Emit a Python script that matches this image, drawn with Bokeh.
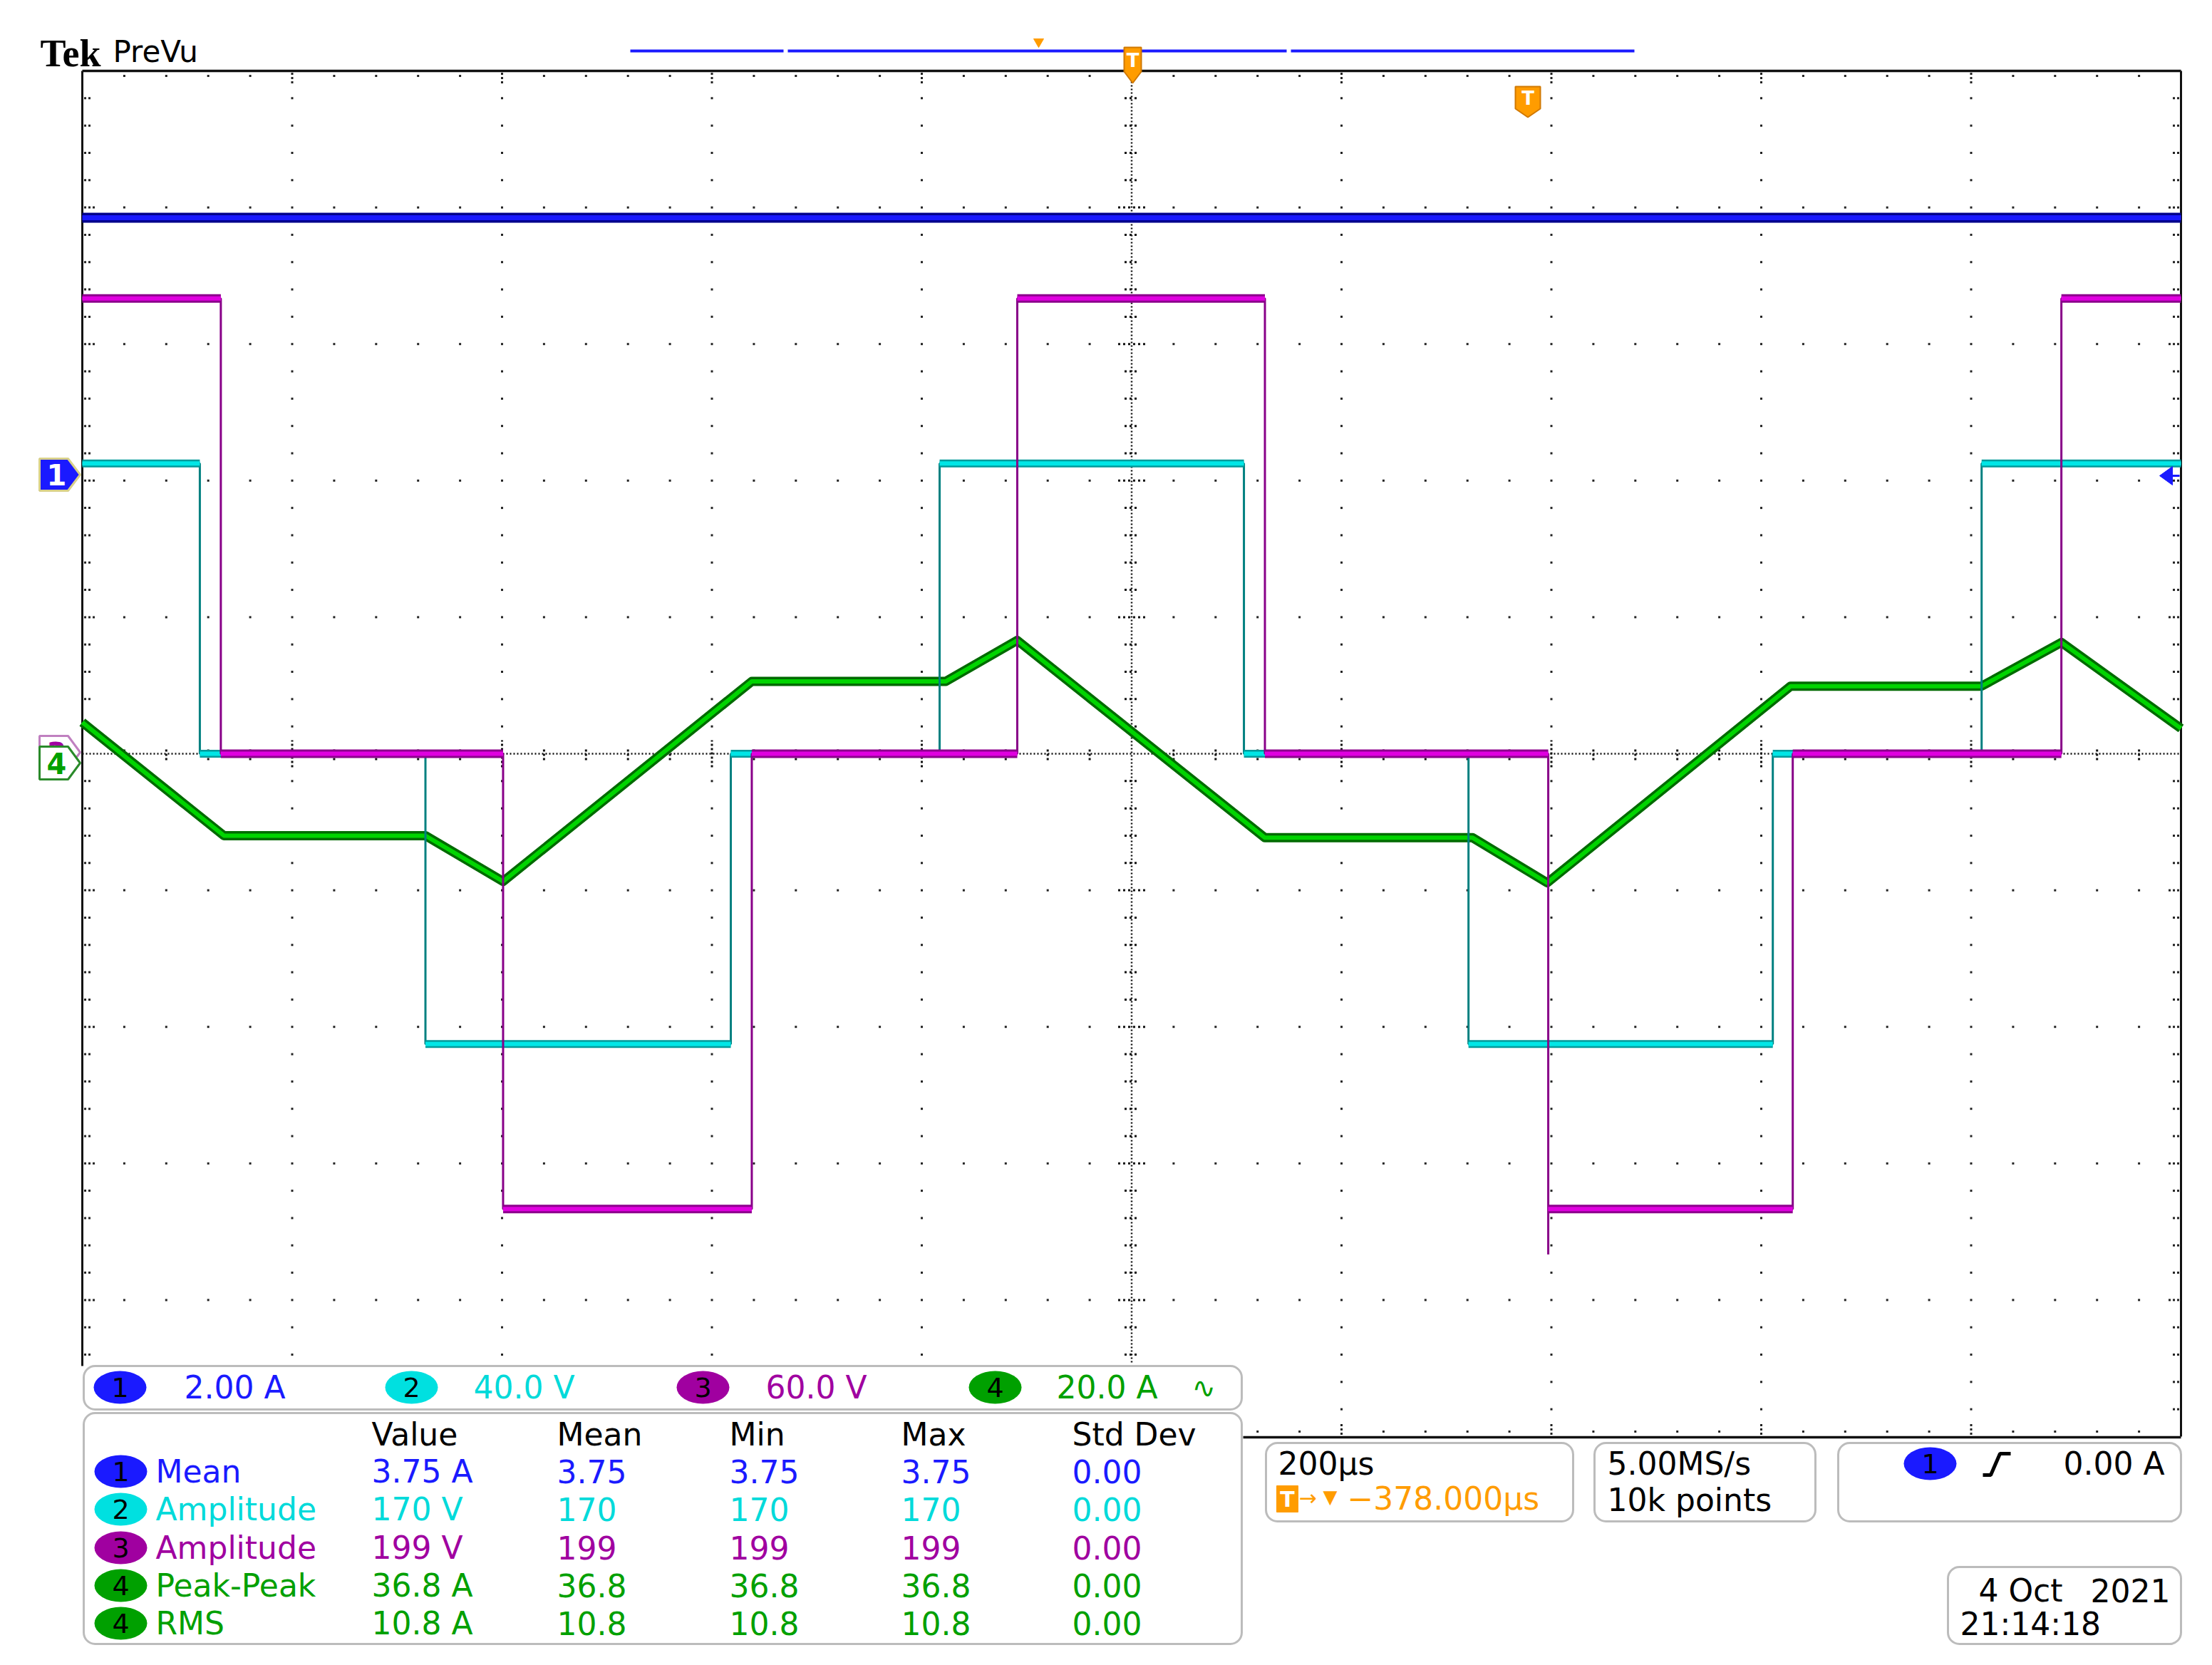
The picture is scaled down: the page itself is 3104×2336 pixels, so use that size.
import numpy as np
from bokeh.plotting import figure
from bokeh.models import Range1d, BoxAnnotation
from bokeh.core.properties import value
from bokeh.embed import file_html
from bokeh.resources import INLINE

# ---------------- data ----------------
time_per_div_us = 200.0
ch_scales = [2.0, 40.0, 60.0, 20.0]          # units per division (A, V, V, A)
ch_offsets_div = [2.05, 0.0, 0.0, -0.05]     # ground-marker position in divisions

ch1_t = [-1000, 1000]
ch1_v = [3.75, 3.75]

ch2_t = [-1000, -888, -888, -673, -673, -382, -382, -183, -183, 107, 107, 321, 321, 611, 611, 810, 810, 1000]
ch2_v = [85, 85, 0, 0, -85, -85, 0, 0, 85, 85, 0, 0, -85, -85, 0, 0, 85, 85]

ch3_t = [-1000, -868, -868, -599, -599, -362, -362, -109, -109, 127, 127, 397, 397, 397, 630, 630, 886, 886, 1000]
ch3_v = [200, 200, 0, 0, -200, -200, 0, 0, 200, 200, 0, 0, -220, -200, -200, 0, 0, 200, 200]

ch4_t = [-1000, -865, -673, -599, -362, -177, -109, 127, 325, 396, 628, 810, 886, 1000]
ch4_v = [5.6, -11.0, -11.0, -17.7, 11.6, 11.6, 17.6, -11.3, -11.3, -17.9, 10.9, 10.9, 17.3, 4.7]

scale_labels = ["2.00 A", "40.0 V", "60.0 V", "20.0 A"]
meas_headers = ["Value", "Mean", "Min", "Max", "Std Dev"]
meas_ch = ["1", "2", "3", "4", "4"]
meas_name = ["Mean", "Amplitude", "Amplitude", "Peak-Peak", "RMS"]
meas_value = ["3.75 A", "170 V", "199 V", "36.8 A", "10.8 A"]
meas_mean = ["3.75", "170", "199", "36.8", "10.8"]
meas_min = ["3.75", "170", "199", "36.8", "10.8"]
meas_max = ["3.75", "170", "199", "36.8", "10.8"]
meas_std = ["0.00", "0.00", "0.00", "0.00", "0.00"]
horiz_label = "200µs"
trig_delay = "−378.000µs"
acq_labels = ["5.00MS/s", "10k points"]
trig_level = "0.00 A"
date_label = ["4 Oct", "2021", "21:14:18"]

# ---------------- colours ----------------
C_BLUE, C_BLUE_D = "#1a1aff", "#00008c"
C_CYAN, C_CYAN_D, C_CYAN_E = "#00e6e6", "#009a9a", "#008080"
C_MAG, C_MAG_D, C_MAG_E = "#e000e0", "#8c008c", "#880088"
C_GRN, C_GRN_D = "#00d400", "#006a00"
C_BADGE = ["#1a1aff", "#00e0e0", "#a000a0", "#00a000"]
C_TEXT = ["#1a1aff", "#00dada", "#a000a0", "#00a000"]
C_ORANGE = "#ff9c00"

# ---------------- canvas geometry ----------------
W, H, OFF = 3104, 2336, 0
GL, GR, GT, GB = 115, 3060, 99, 2015        # graticule box in page pixels
PXX = (GR - GL) / 10.0
PXY = (GB - GT) / 10.0
XS = -5 - (GL - OFF) / PXX
XE = XS + W / PXX
YT = 5 + (GT - OFF) / PXY
YB = YT - H / PXY


def X(px):
    return XS + (px - OFF) / PXX


def Y(py):
    return YT - (py - OFF) / PXY


p = figure(width=W, height=H, x_range=Range1d(XS, XE), y_range=Range1d(YB, YT),
           output_backend="svg", toolbar_location=None, min_border=0,
           x_axis_location=None, y_axis_location=None, outline_line_color=None,
           background_fill_color="white", border_fill_color="white")
p.grid.visible = False

FONT = value("DejaVu Sans")


def txt(xs, ys, texts, color, size=44, align="left", font=FONT, style="normal"):
    p.text(x=[X(v) for v in xs], y=[Y(v) for v in ys], text=texts, text_color=color,
           text_font=font, text_font_size=f"{size}px", text_align=align,
           text_baseline="middle", text_font_style=style)


# ---------------- graticule ----------------
box_cut_x, box_cut_y = X(1750), Y(1908)
minor = [round(k * 0.2, 2) for k in range(-25, 26)]
major = [m for m in range(-4, 5) if m != 0]
dx, dy = [], []
for yy in major:
    for xx in minor:
        if abs(xx) < 5 and xx != 0:
            dx.append(xx); dy.append(yy)
for xx in major:
    for yy in minor:
        if abs(yy) < 5 and yy != 0 and abs(yy - round(yy)) > 1e-6:
            dx.append(xx); dy.append(yy)
# border ticks
for yy in minor:
    if abs(yy) >= 5 or yy == 0:
        continue
    offs = [4, 10, 16] if abs(yy - round(yy)) < 1e-6 else [4, 10]
    for o in offs:
        dx.append(X(GL + o)); dy.append(yy)
        dx.append(X(GR - o)); dy.append(yy)
for xx in minor:
    if abs(xx) >= 5 or xx == 0:
        continue
    offs = [4, 10, 16] if abs(xx - round(xx)) < 1e-6 else [7]
    for o in offs:
        dx.append(xx); dy.append(Y(GT + o))
        dx.append(xx); dy.append(Y(GB - o))
keep = [(a, b) for a, b in zip(dx, dy) if not (a < box_cut_x and b < box_cut_y)]
p.scatter([k[0] for k in keep], [k[1] for k in keep], marker="square", size=3,
          color="#222222", line_color=None)

# center cross (dotted) with ticks
p.line([0, 0], [5, Y(1912)], line_color="#111111", line_width=2.5, line_dash="2 3")
p.line([-5, 5], [0, 0], line_color="#111111", line_width=2.5, line_dash="2 3")
for yy in minor:
    if abs(yy) >= 5 or yy == 0 or yy < Y(1905):
        continue
    half = 19 if abs(yy - round(yy)) < 1e-6 else 10
    p.segment(x0=[-half / PXX], y0=[yy], x1=[half / PXX], y1=[yy],
              line_color="#111111", line_width=3, line_dash="3 4")
for xx in minor:
    if abs(xx) >= 5 or xx == 0:
        continue
    half = 19 if abs(xx - round(xx)) < 1e-6 else 9
    p.segment(x0=[xx], y0=[-half / PXY], x1=[xx], y1=[half / PXY],
              line_color="#111111", line_width=3, line_dash="3 3")

# graticule border
p.line([X(GL), X(GL)], [Y(1916), Y(GT)], line_color="#111111", line_width=3)
p.line([X(GL), X(GR)], [Y(GT), Y(GT)], line_color="#111111", line_width=3.5)
p.line([X(GR), X(GR)], [Y(GT), Y(GB)], line_color="#111111", line_width=3)
p.line([X(1744), X(GR)], [Y(GB + 1), Y(GB + 1)], line_color="#111111", line_width=3.5)


# ---------------- waveforms ----------------
def xd(t):
    return [v / time_per_div_us for v in t]


def yd(v, ch):
    return [ch_offsets_div[ch] + a / ch_scales[ch] for a in v]


def plateaus(t, v):
    idx = [i for i in range(len(t) - 1) if v[i] == v[i + 1] and t[i] != t[i + 1]]
    return [t[i] for i in idx], [t[i + 1] for i in idx], [v[i] for i in idx]


# ch4 (green)
p.line(xd(ch4_t), yd(ch4_v, 3), line_color=C_GRN_D, line_width=13, line_join="round")
p.line(xd(ch4_t), yd(ch4_v, 3), line_color=C_GRN, line_width=6, line_join="round")

# ch2 (cyan)
p.line(xd(ch2_t), yd(ch2_v, 1), line_color=C_CYAN_E, line_width=3)
t0, t1, lv = plateaus(ch2_t, ch2_v)
p.segment(x0=xd(t0), y0=yd(lv, 1), x1=xd(t1), y1=yd(lv, 1), line_color=C_CYAN_D, line_width=11)
p.segment(x0=xd(t0), y0=yd(lv, 1), x1=xd(t1), y1=yd(lv, 1), line_color=C_CYAN, line_width=6)

# ch3 (magenta)
p.line(xd(ch3_t), yd(ch3_v, 2), line_color=C_MAG_E, line_width=3)
t0, t1, lv = plateaus(ch3_t, ch3_v)
p.segment(x0=xd(t0), y0=yd(lv, 2), x1=xd(t1), y1=yd(lv, 2), line_color=C_MAG_D, line_width=12)
p.segment(x0=xd(t0), y0=yd(lv, 2), x1=xd(t1), y1=yd(lv, 2), line_color=C_MAG, line_width=6)

# ch1 (blue)
p.line(xd(ch1_t), yd(ch1_v, 0), line_color=C_BLUE_D, line_width=14)
p.line(xd(ch1_t), yd(ch1_v, 0), line_color=C_BLUE, line_width=7)


# ---------------- markers ----------------
def marker(top, bottom, fill, line, label, tcolor, left=55, body=95, tip=112):
    mid = (top + bottom) / 2.0
    p.patch([X(left), X(body), X(tip), X(body), X(left)],
            [Y(top), Y(top), Y(mid), Y(bottom), Y(bottom)],
            fill_color=fill, line_color=line, line_width=3)
    txt([(left + body) / 2 + 4], [mid], [label], tcolor, size=40, align="center",
        style="bold")


marker(643, 688, C_BLUE, "#d8d08a", "1", "white")
marker(1032, 1078, "white", "#c080c0", "3", "#a000a0")
marker(1047, 1093, "white", "#2a8a2a", "4", "#00a000")

# right-side trigger level arrow (ch1)
p.patch([X(3030), X(3048), X(3048)], [Y(667), Y(654), Y(680)], fill_color=C_BLUE,
        line_color=C_BLUE)
p.line([X(3044), X(3058)], [Y(667), Y(667)], line_color=C_BLUE, line_width=3)

# header
txt([56], [74], ["Tek"], "black", size=54, font=value("Liberation Serif"), style="bold")
txt([158], [72], ["PreVu"], "black", size=42)
p.segment(x0=[X(884), X(1105), X(1811)], y0=[Y(71)] * 3,
          x1=[X(1099), X(1805), X(2293)], y1=[Y(71)] * 3, line_color=C_BLUE, line_width=4)
p.scatter([X(1457)], [Y(58)], marker="inverted_triangle", size=14, color=C_ORANGE)


def tmark(l, r, top, body, tip_y):
    c = (l + r) / 2.0
    p.patch([X(l), X(r), X(r), X(c), X(l)], [Y(top), Y(top), Y(body), Y(tip_y), Y(body)],
            fill_color=C_ORANGE, line_color="#d07800", line_width=2)
    txt([c], [(top + body) / 2 + 1], ["T"], "white", size=26, align="center", style="bold")


tmark(1577, 1601, 66, 100, 116)
tmark(2126, 2161, 121, 152, 164)

# ---------------- readout boxes ----------------
for (l, r, t, b) in [(117, 1742, 1916, 1977), (117, 1742, 1982, 2306),
                     (1776, 2207, 2024, 2134), (2237, 2547, 2024, 2134),
                     (2579, 3060, 2024, 2134), (2733, 3060, 2198, 2306)]:
    p.add_layout(BoxAnnotation(left=X(l), right=X(r), top=Y(t), bottom=Y(b),
                               fill_color="white", fill_alpha=1.0, line_color="#222222",
                               line_width=3, border_radius=16, level="underlay"))


def badges(xs, ys, labels, colors):
    p.ellipse(x=[X(v) for v in xs], y=[Y(v) for v in ys], width=74 / PXX, height=46 / PXY,
              fill_color=colors, line_color=None)
    txt(xs, ys, labels, "black", size=38, align="center")


# channel scale bar
bar_y = 1946
badges([168, 577, 986, 1396], [bar_y] * 4, ["1", "2", "3", "4"], C_BADGE)
for xpos, lab, col in zip([258, 664, 1074, 1482], scale_labels, C_TEXT):
    txt([xpos], [bar_y], [lab], col)
txt([1672], [bar_y], ["∿"], C_TEXT[3], size=40)

# measurement table
row_y = [2064, 2117, 2171, 2224, 2277]
cols_x = [521, 781, 1023, 1264, 1504]
txt(cols_x, [2012] * 5, meas_headers, "black")
badges([169] * 5, row_y, meas_ch, [C_BADGE[int(c) - 1] for c in meas_ch])
for i in range(5):
    col = C_TEXT[int(meas_ch[i]) - 1]
    txt([218] + cols_x, [row_y[i]] * 6,
        [meas_name[i], meas_value[i], meas_mean[i], meas_min[i], meas_max[i], meas_std[i]],
        col)

# horizontal box
txt([1793], [2053], [horiz_label], "black")
p.quad(left=[X(1791)], right=[X(1821)], top=[Y(2084)], bottom=[Y(2121)],
       fill_color=C_ORANGE, line_color=C_ORANGE)
txt([1806], [2103], ["T"], "white", size=30, align="center", style="bold")
txt([1822], [2101], ["→"], C_ORANGE, size=30)
txt([1856], [2099], ["▼"], C_ORANGE, size=26)
txt([1890], [2102], [trig_delay], C_ORANGE)

# acquisition box
txt([2255, 2255], [2053, 2104], acq_labels, "black")

# trigger box
badges([2708], [2053], ["1"], [C_BADGE[0]])
p.line([X(2782), X(2793), X(2806), X(2821)], [Y(2069), Y(2069), Y(2039), Y(2039)],
       line_color="black", line_width=5)
txt([3037], [2053], [trig_level], "black", align="right")

# date box
txt([2776], [2231], [date_label[0]], "black")
txt([3045], [2231], [date_label[1]], "black", align="right")
txt([2750], [2278], [date_label[2]], "black")

open("out.html", "w").write(file_html(p, INLINE))
